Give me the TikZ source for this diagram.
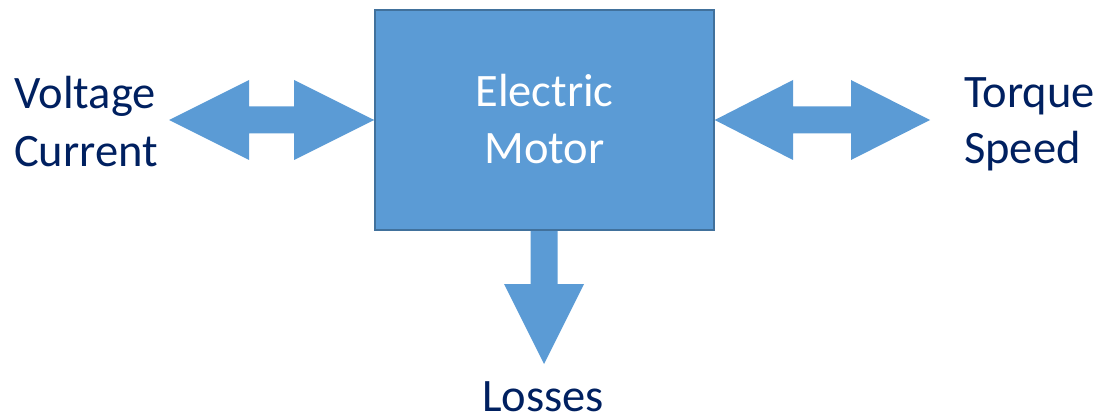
\documentclass[tikz,border=0pt]{standalone}
\usepackage{fontspec}
\setmainfont{Carlito}
\definecolor{boxfill}{HTML}{5B9BD5}
\definecolor{boxline}{HTML}{41719C}
\definecolor{navy}{HTML}{002060}
\begin{document}
\begin{tikzpicture}[x=1pt,y=-1pt,
  lbl/.style={inner sep=0pt,font=\fontsize{46.5}{57}\selectfont,text=navy},
  wlbl/.style={inner sep=0pt,font=\fontsize{46.5}{57}\selectfont,text=white},
  arr/.style={fill=boxfill,draw=none}]
\useasboundingbox (0,0) rectangle (1103,417);
\node[draw=boxline,line width=1.5pt,fill=boxfill,minimum width=339pt,minimum height=220pt,inner sep=0pt] (motor) at (544.5,120) {};
\node[wlbl,anchor=base] (l1) at (544.5,107) {Electric};
\node[wlbl,anchor=base] (l2) at (544.5,164) {Motor};
% left double arrow
\fill[arr] (motor.west) -- (294,80) -- (294,106.5) -- (249,106.5) -- (249,80) -- (169,120)
  -- (249,160) -- (249,133.5) -- (294,133.5) -- (294,160) -- cycle;
% right double arrow
\fill[arr] (motor.east) -- (793,80) -- (793,106.5) -- (851,106.5) -- (851,80) -- (930,120)
  -- (851,160) -- (851,133.5) -- (793,133.5) -- (793,160) -- cycle;
% down arrow
\fill[arr] (530.5,231) -- (557.5,231) -- (557.5,284) -- (584,284) -- (544,364) -- (504,284) -- (530.5,284) -- cycle;
\node[lbl,anchor=base west] (volt) at (14,109) {Voltage};
\node[lbl,anchor=base west] (curr) at (14,167) {Current};
\node[lbl,anchor=base west] (torq) at (964,108) {Torque};
\node[lbl,anchor=base west] (spd) at (964,164) {Speed};
\node[lbl,anchor=base,text depth=0pt] (loss) at (543,411) {Losses};
\end{tikzpicture}
\end{document}
